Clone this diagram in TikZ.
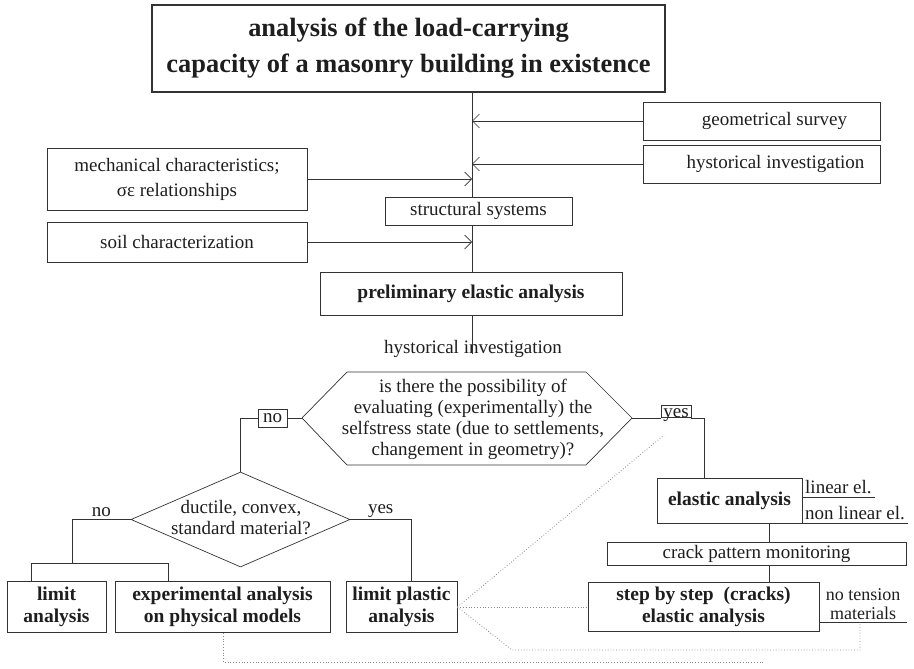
\documentclass[tikz,border=0pt]{standalone}
\usepackage{fontspec}
\setmainfont{Liberation Serif}
\usetikzlibrary{arrows.meta,shapes.geometric}
\definecolor{ink}{HTML}{1E1E1E}
\definecolor{rule}{HTML}{333333}
\definecolor{faint}{HTML}{8A8A8A}
\begin{document}
\begin{tikzpicture}[x=1pt,y=-1pt,
  every node/.style={text=ink, font=\fontsize{19}{21}\selectfont},
  box/.style={draw=rule, line width=0.8pt, fill=white, inner sep=0pt, align=center},
  bbox/.style={box, font=\fontsize{19.5}{22}\selectfont\bfseries},
  link/.style={draw=rule, line width=0.8pt},
  feed/.style={link, -{Straight Barb[length=7pt,width=14pt,line width=0.6pt]}},
  hint/.style={draw=faint, dotted, line width=0.8pt},
  tag/.style={inner sep=2pt},
  note/.style={anchor=base, inner sep=0pt, font=\fontsize{18}{18}\selectfont},
]
\useasboundingbox (0,0) rectangle (914,669);

% ---------- upper part: inputs feeding the main spine ----------
\node[box, line width=2.2pt, minimum width=513, minimum height=87,
      font=\fontsize{26.4}{36}\selectfont\bfseries] (title) at (408.5,48.5)
  {analysis of the load-carrying\\capacity of a masonry building in existence};

\coordinate (mx) at (472,0);

\node[box, minimum width=237, minimum height=38] (geom) at (761.5,121) {\hspace*{26pt}geometrical survey};
\node[box, minimum width=237, minimum height=38] (hyst) at (761.5,164) {\hspace*{28pt}hystorical investigation};
\node[box, minimum width=260, minimum height=62, font=\fontsize{19}{25}\selectfont] (mech) at (177,179)
  {mechanical characteristics;\\σε relationships};
\node[box, minimum width=187, minimum height=28] (struct) at (478.5,211) {structural systems};
\node[box, minimum width=260, minimum height=40] (soil) at (177,242) {soil characterization};
\node[bbox, minimum width=302, minimum height=43] (prelim) at (471,293.5) {preliminary elastic analysis};
\node[inner sep=0pt] (hist) at (473,349) {hystorical investigation};

\draw[link] (title.south -| mx) -- (struct.north -| mx);
\draw[link] (struct.south -| mx) -- (prelim.north -| mx);
\draw[link] (prelim.south -| mx) -- (hist.base -| mx);

\draw[feed] (geom.west) -- (geom.west -| mx);
\draw[feed] (hyst.west) -- (hyst.west -| mx);
\draw[feed] (mech.east) -- (mech.east -| mx);
\draw[feed] (soil.east) -- (soil.east -| mx);

% ---------- first decision (hexagon) ----------
\coordinate (qW)  at (302,418);
\coordinate (qNW) at (347,372);
\coordinate (qNE) at (586,372);
\coordinate (qE)  at (632,418);
\coordinate (qSE) at (586,465);
\coordinate (qSW) at (347,465);
\draw[link, line width=0.7pt] (qW) -- (qNW) -- (qNE) -- (qE) -- (qSE) -- (qSW) -- cycle;
\node[align=center] (q) at (473,419)
  {is there the possibility of\\evaluating (experimentally) the\\selfstress state (due to settlements,\\changement in geometry)?};

\node[box, text height=9pt, text depth=0pt, inner xsep=3pt, minimum width=29, minimum height=18] (nobox) at (272.5,418) {no};
\node[box, text height=11pt, text depth=0pt, inner xsep=2pt, inner ysep=0.5pt, minimum width=30, anchor=south] (yesbox) at (676,418) {yes};

% ---------- left branch: second decision (diamond) ----------
\node[diamond, draw=rule, line width=0.7pt, minimum width=219, minimum height=95, inner sep=0pt] (dia) at (240.5,519.5) {};
\node[align=center] (diat) at (241,518) {ductile, convex,\\standard material?};

\coordinate (noX)  at (72,563);
\coordinate (busL) at (31,563);
\coordinate (busR) at (168,563);
\coordinate (lpx)  at (411,0);

\node[bbox, minimum width=99,  minimum height=51] (limit)  at (56.5,607)  {limit\\analysis};
\node[bbox, minimum width=215, minimum height=51] (exper)  at (222.5,607) {experimental analysis\\on physical models};
\node[bbox, minimum width=111, minimum height=51] (lplast) at (401.5,607) {limit plastic\\analysis};

\draw[link] (qW) -- (nobox.east);
\draw[link] (nobox.west) -- (nobox.west -| dia.north) -- (dia.north);
\draw[link] (dia.west) -- node[above, tag] {no} (dia.west -| noX) -- (noX);
\draw[link] (limit.north -| busL) -- (busL) -- (busR) -- (exper.north -| busR);
\draw[link] (dia.east) -- node[above, tag] {yes} (dia.east -| lpx) -- (lplast.north -| lpx);

% ---------- right branch: elastic analyses ----------
\coordinate (yx) at (704,0);
\coordinate (ex) at (769,0);

\node[bbox, minimum width=145, minimum height=45] (elastic) at (729.5,500.5) {elastic analysis};
\node[box, minimum width=299, minimum height=23] (crack) at (756.5,553.5) {crack pattern monitoring};
\node[bbox, minimum width=231, minimum height=49] (step) at (703.5,607) {step by step\ \ (cracks)\\elastic analysis};

\draw[link] (qE) -- (yesbox.south west);
\draw[link] (yesbox.south east) -- (yesbox.south -| yx) -- (elastic.north -| yx);
\draw[link] (elastic.south -| ex) -- (crack.north -| ex);
\draw[link] (crack.south -| ex) -- (step.north -| ex);

% side notes with underlines
\node[anchor=base west, inner xsep=3pt, inner ysep=0pt] (lin) at (802,493) {linear el.};
\node[anchor=base west, inner xsep=3pt, inner ysep=0pt] (nlin) at (802,519) {non linear el.};
\coordinate (ul1) at (0,497);
\coordinate (ul2) at (0,523);
\draw[link] (elastic.east |- ul1) -- (lin.east |- ul1);
\draw[link] (elastic.east |- ul2) -- (nlin.east |- ul2);

\node[note] (nt1) at (863,600) {no tension};
\node[note] (nt2) at (863,619) {materials};
\coordinate (ul3) at (907,622);
\draw[link] (step.east |- ul3) -- (ul3);

% ---------- dotted cross references ----------
\coordinate (dq) at (664,435);
\coordinate (dB) at (512,650);
\coordinate (dC) at (860,650);
\coordinate (dE) at (223,662);
\coordinate (dF) at (765,662);

\draw[hint] (lplast.east) -- (step.west);
\draw[hint] (lplast.east) -- (dq);
\draw[hint] (lplast.east) -- (dB) -- (dC) -- (ul3 -| dC);
\draw[hint] (exper.south -| dE) -- (dE) -- (dF);

\end{tikzpicture}
\end{document}
